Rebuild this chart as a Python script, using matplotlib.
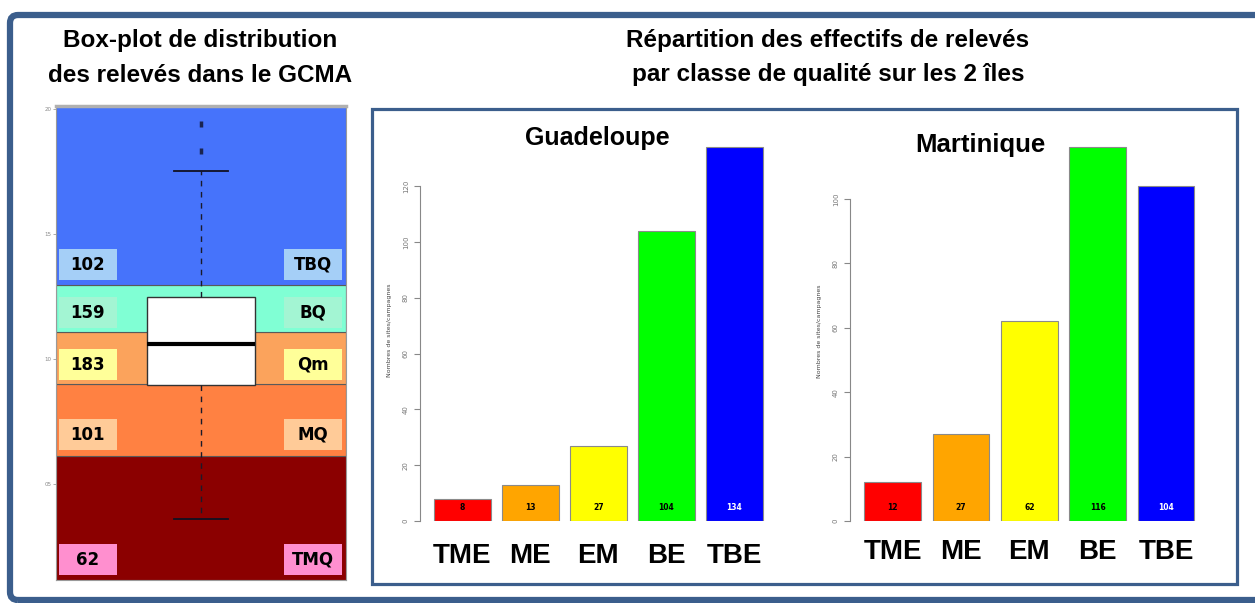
import matplotlib.pyplot as plt
from matplotlib.patches import FancyBboxPatch, Rectangle

W, H = 1255, 603

# --- GCMA box-plot (left panel)
band_codes = ['TMQ', 'MQ', 'Qm', 'BQ', 'TBQ']
band_counts = [62, 101, 183, 159, 102]
band_edges = [1.16, 6.1, 9.0, 11.05, 12.95, 20.1]
band_colors = ['#8b0000', '#ff8142', '#fba35c', '#80ffd4', '#4673fb']
label_colors = ['#ff8fcf', '#ffcb98', '#ffff99', '#a3f5d3', '#a5cff7']
label_y = [1.96, 6.96, 9.76, 11.84, 13.76]
gcma_ticks = [5, 10, 15, 20]
gcma_ticklabels = ['05', '10', '15', '20']
box_stats = dict(whislo=3.6, q1=8.96, med=10.6, q3=12.48, whishi=17.5,
                 fliers=[18.3, 19.4])

# --- class counts per island
classes = ['TME', 'ME', 'EM', 'BE', 'TBE']
bar_colors = ['#ff0000', '#ffa500', '#ffff00', '#00ff00', '#0000ff']
value_colors = ['black', 'black', 'black', 'black', 'white']
guadeloupe = [8, 13, 27, 104, 134]
martinique = [12, 27, 62, 116, 104]

frame_col = '#3b5e8c'


def px_axes(x0, y0, x1, y1):
    # pixel box (top-left origin) -> figure fraction rect
    return fig.add_axes([x0 / W, 1 - y1 / H, (x1 - x0) / W, (y1 - y0) / H])


fig = plt.figure(figsize=(W / 100, H / 100), dpi=100)
fig.patch.set_facecolor('white')

# outer frame and inner frame (in inches)
fig.patches.append(FancyBboxPatch((0.10, 0.03), 12.70, 5.85,
                                  boxstyle='round,pad=0,rounding_size=0.08',
                                  transform=fig.dpi_scale_trans, fill=False,
                                  ec=frame_col, lw=4.5, zorder=0))
fig.patches.append(Rectangle((3.72, 0.19), 8.65, 4.75,
                             transform=fig.dpi_scale_trans, fill=False,
                             ec=frame_col, lw=2.3, zorder=0))

# titles
tkw = dict(ha='center', va='center', fontsize=17.5, fontweight='bold',
           family='Liberation Sans')
fig.text(200 / W, 1 - 40 / H, 'Box-plot de distribution', **tkw)
fig.text(200 / W, 1 - 75 / H, 'des relevés dans le GCMA', **tkw)
fig.text(828 / W, 1 - 40 / H, 'Répartition des effectifs de relevés', **tkw)
fig.text(828 / W, 1 - 75 / H, 'par classe de qualité sur les 2 îles', **tkw)

# ---------------- left panel
ax = px_axes(56, 106, 346, 580)
ax.set_xlim(0, 2)
ax.set_ylim(band_edges[0], band_edges[-1])
for i in range(len(band_codes)):
    ax.axhspan(band_edges[i], band_edges[i + 1], color=band_colors[i],
               ec='#5a5a5a', lw=0.8, zorder=0)
    for xc, txt in [(0.22, str(band_counts[i])), (1.77, band_codes[i])]:
        ax.add_patch(Rectangle((xc - 0.2, label_y[i] - 0.62), 0.4, 1.24,
                               fc=label_colors[i], ec='none', zorder=2))
        ax.text(xc, label_y[i], txt, ha='center', va='center', fontsize=12,
                fontweight='bold', family='DejaVu Sans', zorder=3)

ax.bxp([box_stats], positions=[1], widths=0.74, capwidths=0.37,
       patch_artist=True, showfliers=True,
       boxprops=dict(facecolor='white', edgecolor='#333333', lw=1),
       medianprops=dict(color='black', lw=3),
       whiskerprops=dict(color='#1a1a2a', lw=1, linestyle=(0, (4, 4))),
       capprops=dict(color='#111122', lw=1.3),
       flierprops=dict(marker='|', markersize=4, mew=2.5,
                       markeredgecolor='#1a2450'))
ax.set_xticks([])
ax.set_yticks(gcma_ticks)
ax.set_yticklabels(gcma_ticklabels, fontsize=4, color='#888888')
ax.tick_params(axis='y', length=2, width=0.5, color='#888888', pad=1)
for s in ax.spines.values():
    s.set_color('#9a9a9a')
    s.set_linewidth(0.8)
ax.spines['top'].set_linewidth(2.5)
ax.spines['top'].set_color('#b0b0b0')


# ---------------- right panels
def island(rect, values, ymax, top, title, title_xy, pad, tsize):
    a = px_axes(*rect)
    xs = [0.7 + 1.2 * i for i in range(len(classes))]
    a.bar(xs, values, width=1.0, color=bar_colors, edgecolor='#8a8a8a', lw=0.8)
    for x, v, c in zip(xs, values, value_colors):
        a.annotate(str(v), (x, 0), xytext=(0, 9.5), textcoords='offset points',
                   ha='center', va='center', fontsize=5.5, fontweight='bold',
                   color=c)
    a.set_xlim(-0.05, 6.15)
    a.set_ylim(0, ymax)
    a.set_xticks(xs)
    a.set_xticklabels(classes, fontsize=20, fontweight='bold',
                      family='Liberation Sans')
    a.tick_params(axis='x', length=0, pad=pad)
    a.set_yticks(range(0, top + 1, 20))
    a.tick_params(axis='y', labelsize=5, labelcolor='#777777', length=4,
                  width=0.8, color='#888888', pad=4)
    for lab in a.get_yticklabels():
        lab.set_rotation(90)
        lab.set_va('center')
    a.set_ylabel('Nombres de sites/campagnes', fontsize=4.5, color='#444444',
                 labelpad=8)
    for s in ['top', 'right', 'bottom']:
        a.spines[s].set_visible(False)
    a.spines['left'].set_bounds(0, top)
    a.spines['left'].set_color('#888888')
    a.patch.set_alpha(0)
    fig.text(title_xy[0] / W, 1 - title_xy[1] / H, title, ha='center',
             va='center', fontsize=tsize, fontweight='bold',
             family='Liberation Sans')
    return a


island((420, 139, 771, 521), guadeloupe, 137, 120, 'Guadeloupe', (597, 138), 16, 18)
island((850, 141, 1203, 521), martinique, 118, 100, 'Martinique', (980, 145), 13, 18.5)

fig.savefig('out.png', dpi=100)
